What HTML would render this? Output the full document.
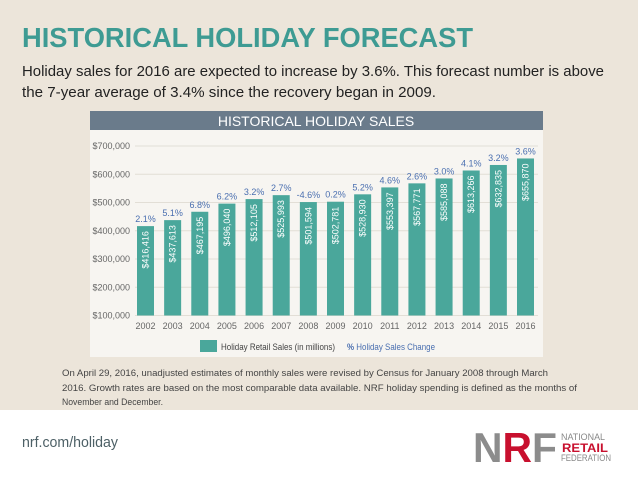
<!DOCTYPE html>
<html><head><meta charset="utf-8"><style>
html,body{margin:0;padding:0;width:638px;height:479px;overflow:hidden;background:#fff}
svg{display:block}
</style></head><body>
<svg id="s" width="638" height="479" xmlns="http://www.w3.org/2000/svg" font-family="Liberation Sans, sans-serif">
<rect x="0" y="0" width="638" height="410" fill="#ece5da"/>
<text x="22" y="47" font-size="28" font-weight="bold" fill="#3e9b93" textLength="451" lengthAdjust="spacingAndGlyphs">HISTORICAL HOLIDAY FORECAST</text>
<text x="22" y="76" font-size="15" fill="#222" textLength="582" lengthAdjust="spacingAndGlyphs">Holiday sales for 2016 are expected to increase by 3.6%. This forecast number is above</text>
<text x="22" y="97" font-size="15" fill="#222" textLength="414" lengthAdjust="spacingAndGlyphs">the 7-year average of 3.4% since the recovery began in 2009.</text>
<rect x="90" y="129" width="453" height="228" fill="#f7f5f1"/>
<rect x="90" y="111" width="453" height="19" fill="#6a7b8b"/>
<text x="316" y="126" font-size="14" fill="#fff" text-anchor="middle">HISTORICAL HOLIDAY SALES</text>
<g id="grid"></g>
<g id="bars"></g>
<rect x="200" y="340" width="17" height="12" fill="#4aa79b"/>
<text x="221" y="350" font-size="9" fill="#444" textLength="114" lengthAdjust="spacingAndGlyphs">Holiday Retail Sales (in millions)</text>
<text x="347" y="350" font-size="9" fill="#4a6fb0" textLength="88" lengthAdjust="spacingAndGlyphs"><tspan font-weight="bold">%</tspan> Holiday Sales Change</text>
<text x="62" y="376" font-size="9" fill="#444" textLength="486" lengthAdjust="spacingAndGlyphs">On April 29, 2016, unadjusted estimates of monthly sales were revised by Census for January 2008 through March</text>
<text x="62" y="391" font-size="9" fill="#444" textLength="515" lengthAdjust="spacingAndGlyphs">2016. Growth rates are based on the most comparable data available. NRF holiday spending is defined as the months of</text>
<text x="62" y="405" font-size="9" fill="#444" textLength="101" lengthAdjust="spacingAndGlyphs">November and December.</text>
<text x="22" y="447" font-size="15" fill="#4d6066" textLength="96" lengthAdjust="spacingAndGlyphs">nrf.com/holiday</text>
<g>
<text x="473" y="462" font-size="42" font-weight="bold" fill="#8c8c8c" textLength="84" lengthAdjust="spacingAndGlyphs">N<tspan fill="#c8102e">R</tspan>F</text>
<text x="561" y="440" font-size="9" fill="#888" textLength="44" lengthAdjust="spacingAndGlyphs">NATIONAL</text>
<text x="562" y="452" font-size="12" font-weight="bold" fill="#c8102e" textLength="46" lengthAdjust="spacingAndGlyphs">RETAIL</text>
<text x="561" y="461" font-size="9" fill="#888" textLength="50" lengthAdjust="spacingAndGlyphs">FEDERATION</text>
</g>
</svg>
<script>
const years = ['2002','2003','2004','2005','2006','2007','2008','2009','2010','2011','2012','2013','2014','2015','2016'];
const sales = [416416,437613,467195,496040,512105,525993,501594,502781,528930,553397,567771,585088,613266,632835,655870];
const salesLabels = ['$416,416','$437,613','$467,195','$496,040','$512,105','$525,993','$501,594','$502,781','$528,930','$553,397','$567,771','$585,088','$613,266','$632,835','$655,870'];
const changes = ['2.1%','5.1%','6.8%','6.2%','3.2%','2.7%','-4.6%','0.2%','5.2%','4.6%','2.6%','3.0%','4.1%','3.2%','3.6%'];
const yTicks = [100000,200000,300000,400000,500000,600000,700000];
const yTickLabels = ['$100,000','$200,000','$300,000','$400,000','$500,000','$600,000','$700,000'];

const NS='http://www.w3.org/2000/svg';
const yMin=100000,yMax=700000,yBot=315.5,yTop=146;
function yScale(v){return yBot-(v-yMin)/(yMax-yMin)*(yBot-yTop);}
const x0=145.5,x1=525.5;
function xScale(i){return x0+i*(x1-x0)/(years.length-1);}
function mk(tag,attrs,parent){const e=document.createElementNS(NS,tag);for(const k in attrs)e.setAttribute(k,attrs[k]);parent.appendChild(e);return e;}
const grid=document.getElementById('grid'),bars=document.getElementById('bars');
yTicks.forEach((t,i)=>{
  const y=yScale(t);
  const l=mk('line',{x1:135,x2:538,y1:y,y2:y,stroke:'#e2ded6','stroke-width':1},grid);
  
  
  const tx=mk('text',{x:130,y:y+3,'font-size':9,fill:'#666','text-anchor':'end'},grid);
  tx.textContent=yTickLabels[i];
  
  
});
years.forEach((yr,i)=>{
  const cx=xScale(i),y=yScale(sales[i]);
  const r=mk('rect',{x:cx-8.5,y:y,width:17,height:yBot-y,fill:'#4aa79b'},bars);
  
  
  const v=mk('text',{x:0,y:0,'font-size':9,fill:'#fff','text-anchor':'end',transform:'translate('+(cx+3)+','+(y+5)+') rotate(-90)'},bars);
  v.textContent=salesLabels[i];
  
  
  const p=mk('text',{x:cx,y:y-4,'font-size':9,fill:'#4a6fb0','text-anchor':'middle'},bars);
  p.textContent=changes[i];
  
  
  const yl=mk('text',{x:cx,y:329,'font-size':9,fill:'#666','text-anchor':'middle'},bars);
  yl.textContent=yr;
  
  
});
</script>
</body></html>
